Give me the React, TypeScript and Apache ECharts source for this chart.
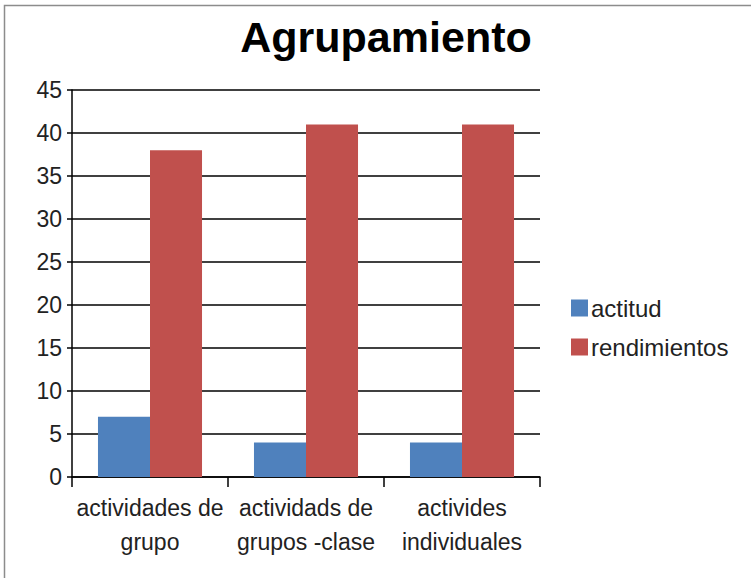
import React, { useEffect, useRef } from "react";
import * as echarts from "echarts";

const cats = ["actividades de\ngrupo", "actividads de\ngrupos -clase", "activides\nindividuales"];
const actitud = [7, 4, 4];
const rendimientos = [38, 41, 41];
const seriesNames = ["actitud", "rendimientos"];

const FONT = "'Liberation Sans', sans-serif";

export default function App() {
  const ref = useRef<HTMLDivElement>(null);
  useEffect(() => {
    document.body.style.margin = "0";
    const chart = echarts.init(ref.current!, null, { renderer: "svg" });
    chart.setOption({
      animation: false,
      backgroundColor: "#ffffff",
      title: {
        text: "Agrupamiento",
        left: 381,
        top: 10,
        textAlign: "center",
        textStyle: { fontFamily: FONT, fontSize: 43, fontWeight: "bold", color: "#000" },
      },
      graphic: [
        {
          type: "rect",
          shape: { x: 4.5, y: 5.5, width: 760, height: 600 },
          style: { fill: "none", stroke: "#8c8c8c", lineWidth: 1.5 },
          silent: true,
        },
      ],
      legend: {
        orient: "vertical",
        left: 566,
        top: 291,
        itemWidth: 17,
        itemHeight: 17,
        itemGap: 15,
        icon: "rect",
        textStyle: { fontFamily: FONT, fontSize: 24, color: "#222", lineHeight: 18, padding: [0, 0, 0, -2] },
        data: seriesNames,
      },
      grid: { left: 72, right: 211, top: 90, bottom: 101 },
      xAxis: {
        type: "category",
        data: cats,
        axisLine: { lineStyle: { color: "#000", width: 1.5 } },
        axisTick: { show: true, length: 10, lineStyle: { color: "#000", width: 1.5 } },
        axisLabel: {
          fontFamily: FONT,
          fontSize: 23,
          color: "#222",
          lineHeight: 34,
          margin: 14,
          interval: 0,
        },
      },
      yAxis: {
        type: "value",
        min: 0,
        max: 45,
        interval: 5,
        axisLine: { show: true, lineStyle: { color: "#000", width: 1.5 } },
        axisTick: { show: true, length: 5, lineStyle: { color: "#000", width: 1.5 } },
        splitLine: { show: true, lineStyle: { color: "#000", width: 1.5 } },
        axisLabel: { fontFamily: FONT, fontSize: 23, color: "#222", margin: 10 },
      },
      series: [
        {
          name: seriesNames[0],
          type: "bar",
          data: actitud,
          barGap: "0%",
          barCategoryGap: "33.3%",
          itemStyle: { color: "#4f81bd" },
        },
        {
          name: seriesNames[1],
          type: "bar",
          data: rendimientos,
          barGap: "0%",
          barCategoryGap: "33.3%",
          itemStyle: { color: "#c0504d" },
        },
      ],
    });
    return () => chart.dispose();
  }, []);
  return <div ref={ref} style={{ width: 751, height: 578 }} />;
}
